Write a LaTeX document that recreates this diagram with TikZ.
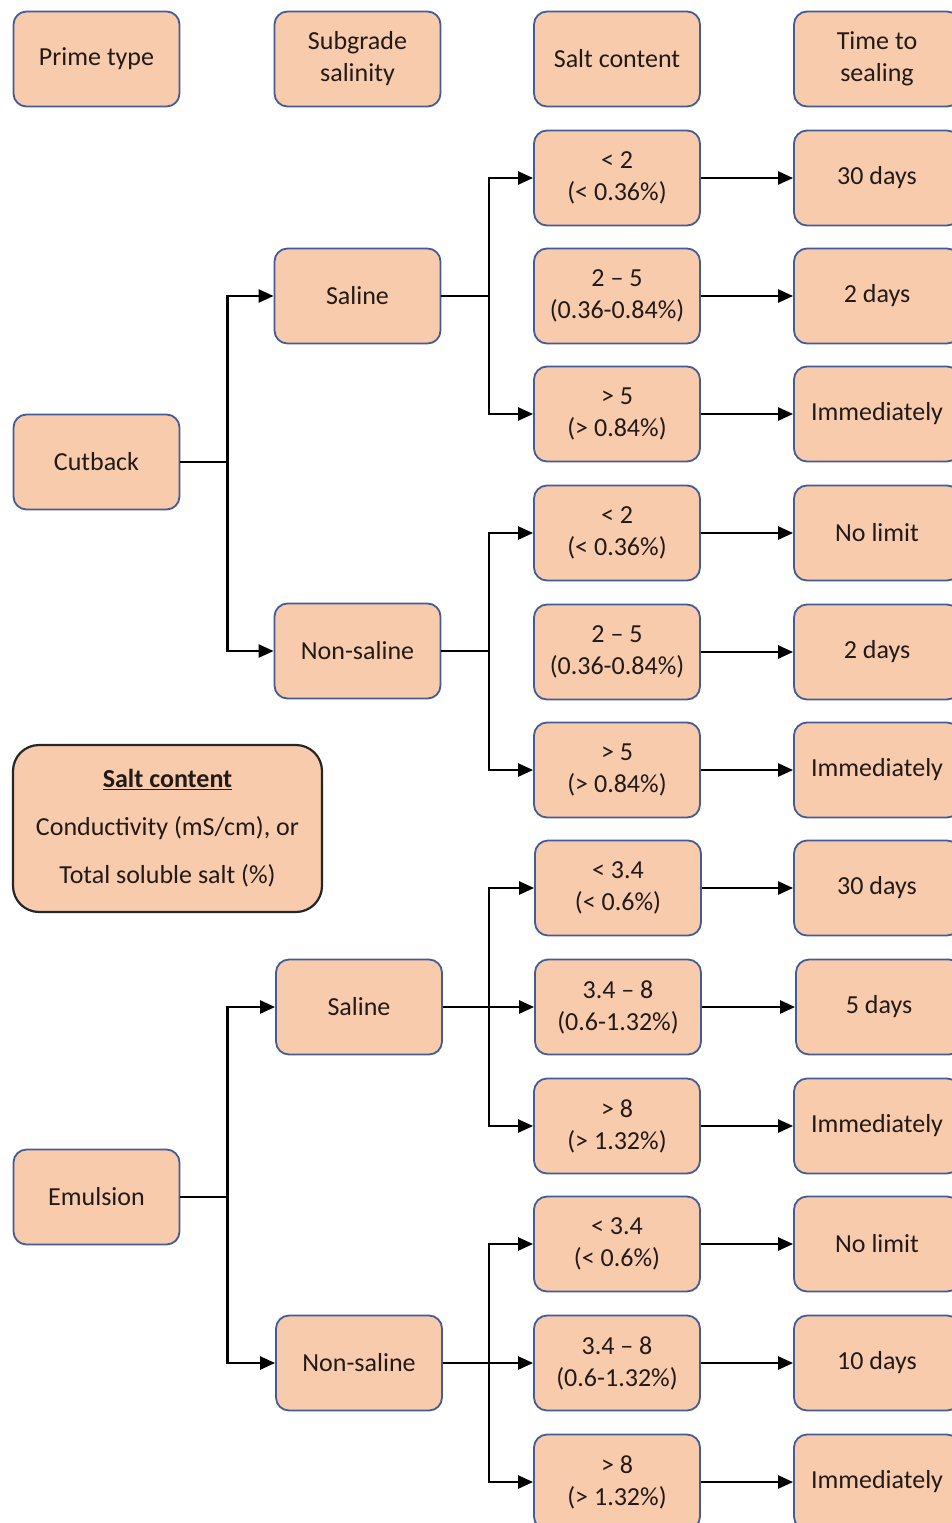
\documentclass[tikz,border=0pt]{standalone}
\usepackage{fontspec}
\setmainfont{Carlito}
\usetikzlibrary{arrows.meta}
\definecolor{peach}{RGB}{248,203,172}
\definecolor{edgeblue}{RGB}{66,92,150}
\definecolor{txt}{RGB}{34,26,24}
\tikzset{
  box/.style={draw=edgeblue, line width=1.8pt, fill=peach, rounded corners=13pt,
    minimum width=166pt, minimum height=95pt, align=center, text=txt,
    font=\fontsize{26}{32}\selectfont, inner sep=0pt},
  legendbox/.style={draw=black!85, line width=2.2pt, fill=peach, rounded corners=26pt,
    minimum width=309pt, minimum height=167pt, align=center, text=txt,
    font=\fontsize{26}{48}\selectfont, inner sep=0pt},
  arr/.style={line width=2.4pt, draw=black, -{Triangle[length=15pt,width=13pt]}},
  ln/.style={line width=2.4pt, draw=black}
}
\begin{document}
\begin{tikzpicture}[x=1pt,y=-1pt]
\useasboundingbox (0,0) rectangle (951,1523);
% headers
\node[box] (h1) at (96.5,59) {Prime type};
\node[box] (h2) at (357.5,59) {Subgrade\\salinity};
\node[box] (h3) at (617,59) {Salt content};
\node[box] (h4) at (877,59) {Time to\\sealing};
% column 1
\node[box] (cut) at (96.5,462) {Cutback};
\node[box] (emu) at (96.5,1197) {Emulsion};
% column 2
\node[box] (s1) at (357.5,296) {Saline};
\node[box] (n1) at (357.5,651) {Non-saline};
\node[box] (s2) at (359,1007) {Saline};
\node[box] (n2) at (359,1363) {Non-saline};
% column 3
\node[box] (a1) at (617,178) {< 2\\(< 0.36\%)};
\node[box] (a2) at (617,296) {2 – 5\\(0.36-0.84\%)};
\node[box] (a3) at (617,414) {> 5\\(> 0.84\%)};
\node[box] (b1) at (617,533) {< 2\\(< 0.36\%)};
\node[box] (b2) at (617,652) {2 – 5\\(0.36-0.84\%)};
\node[box] (b3) at (617,770) {> 5\\(> 0.84\%)};
\node[box] (c1) at (618,888) {< 3.4\\(< 0.6\%)};
\node[box] (c2) at (618,1007) {3.4 – 8\\(0.6-1.32\%)};
\node[box] (c3) at (617,1126) {> 8\\(> 1.32\%)};
\node[box] (d1) at (617,1244) {< 3.4\\(< 0.6\%)};
\node[box] (d2) at (617,1363) {3.4 – 8\\(0.6-1.32\%)};
\node[box] (d3) at (617,1482) {> 8\\(> 1.32\%)};
% column 4
\node[box] (t1) at (877,178) {30 days};
\node[box] (t2) at (877,296) {2 days};
\node[box] (t3) at (877,414) {Immediately};
\node[box] (u1) at (877,533) {No limit};
\node[box] (u2) at (877,652) {2 days};
\node[box] (u3) at (877,770) {Immediately};
\node[box] (v1) at (877,888) {30 days};
\node[box] (v2) at (879,1007) {5 days};
\node[box] (v3) at (877,1126) {Immediately};
\node[box] (w1) at (877,1244) {No limit};
\node[box] (w2) at (877,1363) {10 days};
\node[box] (w3) at (877,1482) {Immediately};
% legend
\node[legendbox] (leg) at (167.5,828.5) {\underline{\textbf{Salt content}}\\Conductivity (mS/cm), or\\Total soluble salt (\%)};
% connectors col1 -> col2
\coordinate (j1) at ([xshift=47pt]cut.east);
\draw[ln] (cut.east) -- (j1);
\draw[arr] (j1) |- (s1.west);
\draw[arr] (j1) |- (n1.west);
\coordinate (j2) at ([xshift=47pt]emu.east);
\draw[ln] (emu.east) -- (j2);
\draw[arr] (j2) |- (s2.west);
\draw[arr] (j2) |- (n2.west);
% col2 -> col3
\coordinate (k1) at ([xshift=47.5pt]s1.east);
\draw[ln] (s1.east) -- (k1);
\draw[arr] (k1) |- (a1.west);
\draw[arr] (k1) |- (a3.west);
\coordinate (k2) at ([xshift=47.5pt]n1.east);
\draw[ln] (n1.east) -- (k2);
\draw[arr] (k2) |- (b1.west);
\draw[arr] (k2) |- (b3.west);
\coordinate (k3) at ([xshift=46pt]s2.east);
\draw[arr] (s2.east) -- (c2.west);
\draw[arr] (k3) |- (c1.west);
\draw[arr] (k3) |- (c3.west);
\coordinate (k4) at ([xshift=46pt]n2.east);
\draw[arr] (n2.east) -- (d2.west);
\draw[arr] (k4) |- (d1.west);
\draw[arr] (k4) |- (d3.west);
% col3 -> col4
\foreach \p/\q in {a1/t1,a2/t2,a3/t3,b1/u1,b2/u2,b3/u3,c1/v1,c2/v2,c3/v3,d1/w1,d2/w2,d3/w3}
  \draw[arr] (\p.east) -- (\q.west);
\end{tikzpicture}
\end{document}
